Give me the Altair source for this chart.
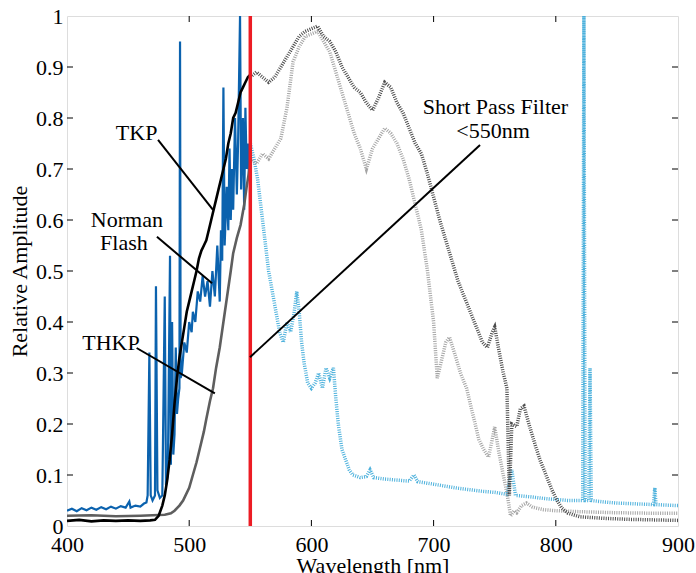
import altair as alt
import pandas as pd

# ---------------- data ----------------
nf_x = [400, 404, 408, 412, 416, 420, 424, 428, 432, 436, 440, 444, 448, 451, 452, 456, 460, 463, 465,
        466, 467.4, 468.5, 470, 472, 472.8, 474, 476, 478, 480, 481, 482.5, 484.3, 485, 486, 487, 488,
        489, 490, 491, 492, 492.5, 493, 494, 496, 498, 500, 502, 503, 505, 507, 509, 511, 513, 515, 517,
        519, 521, 523, 525, 526, 527, 528, 529, 530.7, 532, 533, 534, 535, 536, 537.5, 539, 540, 541.6,
        542.5, 544, 545, 546, 547, 548, 549, 550]
nf_y = [0.030, 0.034, 0.029, 0.035, 0.031, 0.036, 0.032, 0.037, 0.033, 0.038, 0.034, 0.039, 0.036, 0.048,
        0.036, 0.040, 0.038, 0.044, 0.046,
        0.060, 0.340, 0.060, 0.050, 0.060, 0.470, 0.070, 0.055, 0.060, 0.450, 0.080, 0.100, 0.530, 0.120,
        0.400, 0.140, 0.180, 0.350, 0.220, 0.250, 0.270, 0.950, 0.290, 0.300, 0.360, 0.340, 0.400, 0.380,
        0.420, 0.400, 0.460, 0.440, 0.490, 0.450, 0.480, 0.430, 0.500, 0.450, 0.550, 0.440, 0.580, 0.520,
        0.860, 0.550, 0.665, 0.580, 0.740, 0.600, 0.700, 0.620, 0.800, 0.650, 0.750, 1.000, 0.660, 0.800,
        0.620, 0.820, 0.700, 0.750, 0.680, 0.740]

tkp_x = [400, 410, 420, 430, 440, 450, 460, 468, 472, 475, 478, 480, 482, 484, 486, 488, 490, 492, 494,
         496, 498, 500, 502, 504, 506, 508, 510, 512, 514, 516, 518, 520, 522, 524, 526, 528, 530, 532,
         534, 536, 538, 540, 542, 544, 546, 548, 550]
tkp_y = [0.010, 0.012, 0.009, 0.011, 0.010, 0.011, 0.010, 0.011, 0.012, 0.020, 0.040, 0.060, 0.090, 0.130,
         0.180, 0.240, 0.290, 0.330, 0.360, 0.390, 0.420, 0.440, 0.460, 0.480, 0.500, 0.525, 0.540, 0.550,
         0.560, 0.580, 0.600, 0.620, 0.640, 0.660, 0.680, 0.700, 0.720, 0.750, 0.770, 0.800, 0.810, 0.830,
         0.850, 0.860, 0.870, 0.880, 0.885]

thkp_x = [400, 420, 440, 460, 480, 485, 488, 492, 495, 500, 503, 506, 509, 512, 514, 517, 519.5, 522, 525,
          528, 531, 534, 536, 539, 542, 545, 547, 550]
thkp_y = [0.020, 0.021, 0.019, 0.020, 0.022, 0.025, 0.030, 0.040, 0.050, 0.075, 0.100, 0.125, 0.155, 0.185,
          0.210, 0.245, 0.270, 0.310, 0.350, 0.400, 0.450, 0.500, 0.535, 0.565, 0.590, 0.630, 0.665, 0.710]

tkp_ext_x = [550, 555, 560, 565, 570, 575, 580, 585, 590, 595, 600, 605, 610, 615, 620, 625, 630, 635, 640,
             645, 650, 655, 660, 665, 670, 675, 680, 685, 690, 695, 700, 705, 710, 715, 720, 725, 730, 735,
             740, 744, 748, 750, 753, 757, 760, 762, 764, 768, 771, 774, 778, 783, 787, 792, 797, 801, 805,
             810, 820, 840, 860, 880, 900]
tkp_ext_y = [0.880, 0.890, 0.880, 0.870, 0.880, 0.900, 0.920, 0.940, 0.960, 0.970, 0.975, 0.980, 0.960, 0.950,
             0.930, 0.900, 0.880, 0.860, 0.850, 0.830, 0.815, 0.840, 0.870, 0.860, 0.830, 0.810, 0.780, 0.750,
             0.730, 0.690, 0.645, 0.600, 0.560, 0.520, 0.480, 0.450, 0.420, 0.390, 0.360, 0.350, 0.380, 0.390,
             0.350, 0.300, 0.270, 0.060, 0.200, 0.195, 0.230, 0.235, 0.200, 0.160, 0.130, 0.100, 0.070, 0.050,
             0.035, 0.025, 0.018, 0.015, 0.013, 0.012, 0.011]

thkp_ext_x = [550, 555, 560, 565, 570, 575, 580, 585, 590, 595, 600, 605, 610, 615, 620, 625, 630, 635, 640,
              645, 650, 655, 660, 665, 670, 675, 680, 685, 690, 695, 700, 703, 707, 710, 713, 717, 722, 727,
              732, 737, 741, 745, 748, 750, 753, 757, 760, 763, 766, 768, 772, 776, 781, 790, 800, 820, 850,
              880, 900]
thkp_ext_y = [0.720, 0.710, 0.730, 0.720, 0.740, 0.760, 0.820, 0.910, 0.940, 0.960, 0.965, 0.970, 0.950, 0.930,
              0.890, 0.850, 0.810, 0.770, 0.740, 0.700, 0.740, 0.760, 0.780, 0.770, 0.750, 0.720, 0.680, 0.630,
              0.580, 0.500, 0.400, 0.290, 0.330, 0.360, 0.370, 0.340, 0.300, 0.270, 0.220, 0.170, 0.150, 0.135,
              0.170, 0.195, 0.150, 0.100, 0.065, 0.020, 0.030, 0.026, 0.040, 0.045, 0.037, 0.032, 0.030, 0.028,
              0.026, 0.025, 0.025]

nf_ext_x = [550, 553, 556, 559, 562, 565, 568, 571, 574, 577, 580, 583, 586, 588, 590, 592, 594, 597, 600,
            603, 606, 609, 612, 615, 618, 620, 622, 625, 628, 631, 634, 640, 645, 648, 651, 660, 670, 680,
            684, 687, 700, 710, 720, 730, 740, 750, 760, 764, 767, 780, 790, 800, 810, 820, 822, 823, 824,
            827, 828, 829, 840, 850, 860, 870, 880, 881, 882, 890, 900]
nf_ext_y = [0.750, 0.720, 0.680, 0.620, 0.560, 0.500, 0.460, 0.420, 0.380, 0.360, 0.400, 0.380, 0.420, 0.460,
            0.420, 0.360, 0.320, 0.280, 0.270, 0.280, 0.300, 0.270, 0.310, 0.290, 0.310, 0.250, 0.200, 0.150,
            0.130, 0.110, 0.100, 0.095, 0.097, 0.110, 0.095, 0.092, 0.090, 0.088, 0.100, 0.087, 0.082, 0.078,
            0.074, 0.071, 0.068, 0.066, 0.062, 0.110, 0.060, 0.057, 0.054, 0.052, 0.050, 0.050, 0.050, 1.000,
            0.050, 0.050, 0.310, 0.050, 0.047, 0.045, 0.044, 0.043, 0.042, 0.075, 0.042, 0.041, 0.040]

filter_nm = [550]

x_ticks = [400, 500, 600, 700, 800, 900]
y_ticks = [0, 0.1, 0.2, 0.3, 0.4, 0.5, 0.6, 0.7, 0.8, 0.9, 1]

label_text = ["TKP", "Norman", "Flash", "THKP", "Short Pass Filter", "<550nm"]
label_x = [457, 449, 446.6, 436, 750.6, 748.7]
label_y = [0.77, 0.60, 0.555, 0.359, 0.822, 0.775]

arrow_x = [474.5, 473.6, 457, 738]
arrow_y = [0.757, 0.567, 0.349, 0.747]
arrow_x2 = [519.5, 518.7, 521, 549.75]
arrow_y2 = [0.62, 0.476, 0.26, 0.331]

# ---------------- chart ----------------
W, H = 611, 510
FONT = "Liberation Serif"

xs = alt.Scale(domain=[400, 900], nice=False, zero=False)
ys = alt.Scale(domain=[0, 1], nice=False)

x_axis = alt.Axis(values=x_ticks, title="Wavelength [nm]", labelFontSize=22, titleFontSize=22,
                  titleFontWeight="normal", labelColor="black", titleColor="black", ticks=False,
                  domain=False, grid=False, labelPadding=8, labelFlush=False, labelOverlap=False,
                  titleY=46, titleBaseline="alphabetic", labelFont=FONT, titleFont=FONT)
y_axis = alt.Axis(values=y_ticks, format="~g", title="Relative Amplitude", labelFontSize=22,
                  titleFontSize=22, titleFontWeight="normal", labelColor="black", titleColor="black",
                  ticks=False, domain=False, grid=False, labelPadding=4, labelFlush=False,
                  labelOverlap=False, titleX=-41, titleBaseline="alphabetic", labelFont=FONT,
                  titleFont=FONT)

X = lambda f: alt.X(f, scale=xs, axis=x_axis)
Y = lambda f: alt.Y(f, scale=ys, axis=y_axis)


def series(xv, yv):
    return pd.DataFrame({"x": xv, "y": yv})


def line(df, color, width, dash=None, opacity=1.0):
    kw = dict(color=color, strokeWidth=width, opacity=opacity, clip=True)
    if dash:
        kw["strokeDash"] = dash
    return alt.Chart(df).mark_line(**kw).encode(x=X("x:Q"), y=Y("y:Q"))


l_nf_ext = line(series(nf_ext_x, nf_ext_y), "#3AA9D8", 3.5, [1, 1.3], 0.9)
l_thkp_ext = line(series(thkp_ext_x, thkp_ext_y), "#9A9A9A", 3.5, [1, 1.3], 0.9)
l_tkp_ext = line(series(tkp_ext_x, tkp_ext_y), "#3A3A3A", 3.5, [1, 1.3], 0.9)
l_nf = line(series(nf_x, nf_y), "#0B62AE", 2.2)
l_thkp = line(series(thkp_x, thkp_y), "#5E5E5E", 2.6)
l_tkp = line(series(tkp_x, tkp_y), "#000000", 2.6)

red = alt.Chart(pd.DataFrame({"x": filter_nm})).mark_rule(color="#EC1C24", strokeWidth=3.5).encode(
    x=X("x:Q"))

xt = pd.DataFrame({"x": x_ticks[1:-1]})
yt = pd.DataFrame({"y": y_ticks[1:-1]})
tick_b = alt.Chart(xt).mark_rule(color="black", strokeWidth=1).encode(
    x=X("x:Q"), y=alt.value(H), y2=alt.value(H - 6))
tick_t = alt.Chart(xt).mark_rule(color="black", strokeWidth=1).encode(
    x=X("x:Q"), y=alt.value(0), y2=alt.value(6))
tick_l = alt.Chart(yt).mark_rule(color="black", strokeWidth=1).encode(
    y=Y("y:Q"), x=alt.value(0), x2=alt.value(6))
tick_r = alt.Chart(yt).mark_rule(color="black", strokeWidth=1).encode(
    y=Y("y:Q"), x=alt.value(W), x2=alt.value(W - 6))

arrows = alt.Chart(pd.DataFrame({"x": arrow_x, "y": arrow_y, "x2": arrow_x2, "y2": arrow_y2})).mark_rule(
    color="black", strokeWidth=2).encode(x=X("x:Q"), y=Y("y:Q"), x2="x2:Q", y2="y2:Q")

labels = alt.Chart(pd.DataFrame({"x": label_x, "y": label_y, "t": label_text})).mark_text(
    font=FONT, fontSize=22, color="black", align="center", baseline="middle").encode(
    x=X("x:Q"), y=Y("y:Q"), text="t:N")

chart = alt.layer(
    l_nf_ext, l_thkp_ext, l_tkp_ext, l_nf, l_thkp, l_tkp, red,
    tick_b, tick_t, tick_l, tick_r, arrows, labels
).properties(
    width=W, height=H,
    padding={"left": 67, "top": 16, "right": 18, "bottom": 47},
    autosize=alt.AutoSizeParams(type="none"),
    background="white",
).configure_view(stroke="black", strokeWidth=1.2).configure(font=FONT)

chart.save("out.html", embed_options={"renderer": "svg", "actions": False})
